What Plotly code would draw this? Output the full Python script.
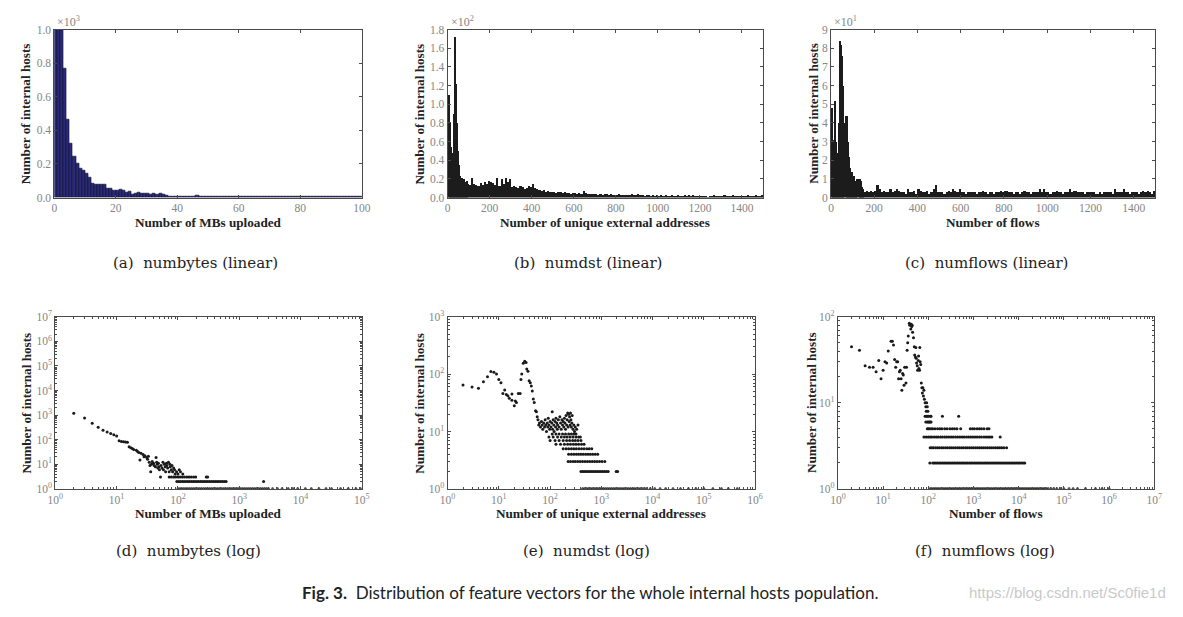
import plotly.graph_objects as go

W, H = 1183, 617

# ---------------- data ----------------
# (a) numbytes, histogram with 1-MB bins
a_bin_start = list(range(0, 100))
a_counts = [1300, 1250, 1200, 766, 462, 320, 245, 200, 172, 160,
            145, 120, 85, 75, 80, 75, 77, 52, 52, 45,
            40, 50, 40, 32, 36, 20, 25, 32, 27, 25,
            22, 20, 23, 18, 22, 19, 12, 8, 5, 7,
            8, 7, 8, 7, 8, 7, 13, 9, 8, 9,
            7, 6, 5, 4, 4, 6, 5, 7, 5, 6,
            5, 6, 5, 7, 6, 5, 7, 4, 7, 5,
            5, 6, 7, 6, 5, 6, 4, 5, 6, 5,
            5, 6, 5, 4, 5, 4, 5, 4, 6, 4,
            5, 5, 4, 5, 4, 5, 4, 5, 4, 5]

# (b) numdst histogram: 5-wide bins up to 100, 10-wide bins after
b_fine_start = list(range(0, 100, 5))
b_fine_counts = [110, 80, 55, 48, 45, 90, 172, 122, 80, 50,
                 35, 24, 21, 22, 19, 20, 17, 16, 18, 15]
b_coarse_start = list(range(100, 1500, 10))
b_coarse_counts = [14, 21, 15, 14, 13, 16, 14, 17, 15, 18,
                   17, 16, 14, 21, 13, 20, 15, 21, 17, 20,
                   12, 13, 12, 11, 13, 12, 10, 11, 13, 12,
                   15, 11, 10, 9, 8, 9, 7, 8, 7, 6,
                   6, 5, 7, 6, 5, 6, 5, 5, 4, 5,
                   5, 4, 5, 4, 8, 5, 4, 4, 4, 4,
                   4, 3, 4, 3, 4, 4, 3, 4, 3, 3,
                   3, 4, 3, 3, 3, 3, 3, 4, 3, 3,
                   4, 3, 3, 2, 3, 3, 2, 3, 2, 3,
                   2, 3, 2, 3, 2, 2, 3, 2, 2, 3,
                   2, 2, 3, 2, 3, 2, 3, 2, 2, 2,
                   2, 2, 2, 1, 2, 2, 3, 2, 2, 2,
                   2, 3, 2, 2, 2, 3, 2, 2, 2, 2,
                   2, 2, 3, 2, 2, 2, 3, 2, 2, 3]

# (c) numflows histogram: 5-wide bins up to 150, 10-wide bins after
c_fine_start = list(range(0, 150, 5))
c_fine_counts = [48, 31, 31, 52, 30, 24, 22, 40, 84, 82,
                 76, 60, 40, 44, 44, 30, 22, 16, 14, 14,
                 12, 12, 9, 8, 10, 10, 10, 9, 6, 5]
c_coarse_start = list(range(150, 1500, 10))
c_coarse_counts = [3, 4, 3, 4, 3, 4, 7, 5, 3, 4,
                   3, 3, 5, 3, 4, 5, 4, 3, 3, 2,
                   5, 3, 3, 4, 2, 5, 4, 3, 3, 4,
                   2, 3, 5, 7, 3, 3, 3, 2, 3, 4,
                   3, 5, 4, 3, 5, 3, 3, 2, 3, 3,
                   3, 3, 2, 3, 3, 4, 3, 2, 3, 3,
                   2, 3, 3, 4, 3, 4, 4, 3, 3, 2,
                   3, 3, 2, 3, 4, 3, 3, 2, 3, 3,
                   3, 5, 3, 5, 3, 3, 2, 3, 3, 4,
                   3, 3, 2, 3, 3, 5, 3, 4, 4, 3,
                   3, 3, 2, 3, 3, 3, 3, 2, 2, 3,
                   2, 3, 3, 3, 3, 2, 5, 3, 3, 3,
                   5, 3, 3, 2, 3, 3, 3, 2, 3, 4,
                   3, 4, 3, 2, 4]

# (d) numbytes log-log: (value, number of hosts)
d_points = [(2, 1200), (3, 760), (4, 470), (5, 320), (6, 245), (7, 205), (8, 180), (9, 160),
            (10, 142), (11, 90), (12, 85), (13, 82), (14, 80), (15, 78), (16, 52), (17, 47),
            (18, 44), (19, 40), (21, 37), (22, 33), (23, 30), (24, 15), (25, 28), (27, 25),
            (28, 20), (29, 22), (31, 19), (32, 16), (33, 21), (34, 12), (35, 9), (36, 5),
            (37, 10), (38, 13), (40, 11), (41, 9), (43, 8), (44, 19), (45, 12), (46, 10),
            (47, 7), (48, 11), (49, 8), (50, 6), (52, 3), (53, 9), (55, 7), (57, 12),
            (58, 6), (60, 10), (62, 8), (63, 5), (65, 11), (66, 9), (68, 7), (70, 12),
            (72, 5), (74, 10), (75, 8), (78, 6), (80, 9), (82, 5), (85, 7), (88, 6),
            (90, 4), (95, 5), (100, 4), (105, 6), (110, 5), (120, 4)]
d_row3_x = [72, 78, 85, 92, 100, 108, 118, 128, 140, 152, 165, 180, 195, 290, 305]
d_row2_x = [96, 103, 110, 118, 126, 135, 145, 155, 166, 178, 190, 204, 218, 234, 250, 268,
            287, 307, 330, 353, 378, 405, 434, 465, 498, 533, 571, 611, 2500]
d_row1_x = [100, 108, 116, 125, 135, 145, 156, 168, 181, 195, 210, 226, 243, 262, 282, 303,
            326, 351, 378, 407, 438, 472, 508, 547, 589, 634, 683, 735, 791, 852, 917, 987,
            1063, 1145, 1233, 1327, 1430, 1540, 1658, 1785, 1922, 2070, 2230, 2400, 2590,
            2790, 3000, 3500, 4200, 5000, 6300, 7500, 9000, 12000, 15000, 20000, 26000,
            32000, 45000, 60000, 80000, 95000]

# (e) numdst log-log
e_points = [(2, 65), (3, 60), (4, 57), (5, 74), (6, 90), (7, 111), (8, 108), (9, 101),
            (10, 81), (11, 71), (12, 46), (13, 53), (14, 44), (15, 42), (16, 38), (18, 45),
            (18, 35), (20, 28), (21, 34), (22, 32), (24, 46), (26, 46), (27, 81), (28, 101),
            (30, 155), (32, 168), (34, 160), (35, 123), (37, 112), (39, 77), (41, 71),
            (43, 62), (45, 51), (47, 37), (49, 32), (52, 23), (54, 22), (56, 18), (58, 16),
            (60, 13), (62, 14), (65, 12), (68, 15), (70, 13), (72, 11), (75, 14), (78, 12),
            (80, 16), (82, 13), (85, 10), (88, 14), (90, 12), (92, 17), (95, 13), (98, 11),
            (100, 15), (104, 12), (108, 14), (110, 22), (112, 11), (115, 16), (118, 13),
            (120, 10), (125, 15), (128, 12), (130, 17), (135, 14), (138, 11), (140, 13),
            (145, 16), (150, 12), (155, 18), (160, 14), (165, 11), (170, 16), (175, 13),
            (180, 15), (185, 12), (190, 17), (195, 14), (200, 11), (205, 19), (210, 13),
            (215, 16), (220, 21), (225, 12), (230, 20), (235, 15), (240, 18), (245, 13),
            (250, 21), (255, 16), (260, 12), (265, 14), (270, 19), (280, 11), (290, 13),
            (300, 10), (310, 12), (320, 9), (330, 11), (350, 13), (390, 8)]
e_row9_x = [110, 130, 150, 175, 200, 230, 260, 290]
e_row8_x = [95, 115, 140, 165, 190, 215, 245, 280, 320, 360]
e_row7_x = [100, 125, 150, 180, 210, 240, 275, 310, 350, 400]
e_row6_x = [130, 160, 190, 220, 250, 285, 320, 360, 410, 460]
e_row5_x = [180, 205, 230, 260, 290, 325, 365, 410, 460, 520, 580, 650]
e_row4_x = [230, 260, 290, 325, 360, 400, 445, 495, 550, 610, 680, 760, 850]
e_row3_x = [225, 250, 280, 310, 345, 385, 430, 480, 535, 595, 665, 740, 825, 920, 1030, 1170]
e_row2_x = [400, 435, 470, 510, 555, 600, 650, 705, 765, 830, 900, 975, 1060, 1150, 1250,
            1360, 1950, 2080]
e_row1_x = [430, 470, 515, 560, 610, 665, 725, 790, 860, 940, 1020, 1110, 1210, 1320, 1440,
            1570, 1710, 1860, 2030, 2210, 2410, 2630, 2860, 3120, 3400, 3700, 4050, 4400,
            4800, 5300, 5800, 6500, 7500, 9000, 11000, 14000, 18000, 25000, 35000, 50000,
            70000, 100000, 150000, 220000, 300000, 450000]

# (f) numflows log-log
f_points = [(2, 45), (3, 41), (4, 27), (5, 26), (6, 26), (7, 23), (8, 31), (9, 19), (10, 24),
            (11, 30), (12, 29), (13, 40), (15, 52), (16, 52), (17, 47), (18, 32), (19, 26),
            (20, 30), (21, 30), (22, 19), (23, 23), (24, 24), (25, 19), (26, 14), (27, 22),
            (28, 21), (29, 16), (30, 26), (32, 17), (33, 26), (34, 41), (35, 50), (36, 60),
            (38, 84), (39, 80), (40, 82), (41, 72), (42, 82), (43, 77), (44, 80), (45, 66),
            (47, 57), (49, 45), (50, 36), (52, 34), (53, 44), (54, 33), (55, 29), (57, 27),
            (58, 24), (60, 31), (61, 35), (62, 25), (64, 24), (65, 44), (66, 30), (68, 28),
            (70, 17), (72, 15), (74, 13), (76, 15), (78, 12), (80, 14), (82, 11), (85, 10),
            (88, 9), (90, 8), (92, 10), (95, 9), (98, 8)]
f_row7_x = [85, 90, 95, 100, 110, 115, 205, 470]
f_row6_x = [88, 95, 100, 105, 110, 115]
f_row5_x = [95, 100, 105, 115, 125, 140, 160, 180, 200, 230, 260, 300, 340, 380, 430, 520,
            850, 950, 1050, 1200, 1350, 1500, 1700, 2000, 2200]
f_row4_x = [80, 90, 100, 110, 120, 135, 150, 165, 185, 205, 230, 255, 285, 320, 355, 400,
            445, 500, 560, 620, 700, 780, 870, 970, 1080, 1200, 1350, 1500, 1700, 1900,
            2100, 2300, 2550, 3900]
f_row3_x = [110, 120, 130, 145, 160, 175, 195, 215, 240, 265, 295, 325, 360, 400, 445, 490,
            545, 600, 670, 740, 820, 910, 1000, 1110, 1230, 1360, 1500, 1660, 1840, 2040,
            2260, 2500, 2780, 3100, 3450, 3800, 4200, 4700, 5400]
f_row2_x = [108, 125, 135, 147, 160, 175, 190, 207, 225, 245, 267, 290, 315, 345, 375, 410,
            445, 485, 530, 575, 625, 680, 740, 810, 880, 960, 1045, 1140, 1240, 1350, 1470,
            1600, 1750, 1900, 2070, 2250, 2460, 2680, 2920, 3180, 3460, 3770, 4100, 4470,
            4870, 5300, 5780, 6300, 6860, 7470, 8140, 8870, 9660, 10500, 11500, 12500, 13600]
f_row1_x = [110, 120, 131, 143, 156, 170, 186, 203, 221, 241, 263, 287, 313, 342, 373, 407,
            444, 484, 528, 576, 629, 686, 748, 816, 890, 971, 1060, 1160, 1260, 1380, 1500,
            1640, 1790, 1950, 2130, 2320, 2530, 2760, 3010, 3290, 3590, 3910, 4270, 4660,
            5080, 5540, 6050, 6600, 7200, 7850, 8560, 9340, 10200, 11100, 12100, 13200,
            14400, 15700, 17200, 18700, 20400, 22300, 24300, 26500, 28900, 31500, 34400,
            37500, 41000, 45000, 52000, 60000, 70000, 85000, 100000, 130000, 160000,
            200000, 300000, 500000, 700000, 1000000]

# tick labels
a_xticks = [0, 20, 40, 60, 80, 100]
a_yticks = [0, 200, 400, 600, 800, 1000]
a_ylabels = ["0.0", "0.2", "0.4", "0.6", "0.8", "1.0"]
bc_xticks = [0, 200, 400, 600, 800, 1000, 1200, 1400]
b_yticks = [0, 20, 40, 60, 80, 100, 120, 140, 160, 180]
b_ylabels = ["0.0", "0.2", "0.4", "0.6", "0.8", "1.0", "1.2", "1.4", "1.6", "1.8"]
c_yticks = [0, 10, 20, 30, 40, 50, 60, 70, 80, 90]
c_ylabels = ["0", "1", "2", "3", "4", "5", "6", "7", "8", "9"]

# ---------------- layout helpers ----------------
SERIF = "Liberation Serif"
WIDE_SERIF = "DejaVu Serif"
TICK_COL = "#858585"
LINE_COL = "#4a4a4a"

# plotting boxes in pixels: x0, x1, y_top, y_bottom
BOX = {
    "a": (47, 359, 22, 194),
    "b": (446, 766, 22, 194),
    "c": (835, 1164, 22, 194),
    "d": (48, 359, 316, 492),
    "e": (446, 758, 316, 492),
    "f": (842, 1163, 316, 492),
}


def xdom(k):
    x0, x1, _, _ = BOX[k]
    return [x0 / W, x1 / W]


def ydom(k):
    _, _, t, b = BOX[k]
    return [1 - b / H, 1 - t / H]


def base_axis(domain, anchor):
    return dict(domain=domain, anchor=anchor, ticks="inside", ticklen=3,
                tickcolor=LINE_COL, tickwidth=0.8, showline=True, linecolor=LINE_COL,
                linewidth=1, mirror="allticks", showgrid=False, zeroline=False,
                tickfont=dict(family=SERIF, size=11.5, color=TICK_COL), fixedrange=True)


def lin_axis(domain, anchor, rng, vals, texts=None):
    ax = base_axis(domain, anchor)
    ax.update(range=rng, tickvals=vals, ticktext=texts if texts else [str(v) for v in vals])
    return ax


def log_axis(domain, anchor, decades):
    ax = base_axis(domain, anchor)
    vals = [10 ** k for k in range(decades + 1)]
    ax.update(type="log", range=[0, decades], tickvals=vals,
              ticktext=["10<sup>%d</sup>" % k for k in range(decades + 1)],
              minor=dict(ticks="inside", ticklen=2, tickcolor=LINE_COL, dtick="D1",
                         showgrid=False))
    return ax


fig = go.Figure()

# ---------- bars ----------
fig.add_trace(go.Bar(x=a_bin_start, y=a_counts, width=1, offset=0,
                     marker=dict(color="#2a2a78", line=dict(color="#101030", width=0.6)),
                     xaxis="x", yaxis="y", showlegend=False))
for xs, ys, w in [(b_fine_start, b_fine_counts, 5), (b_coarse_start, b_coarse_counts, 10)]:
    fig.add_trace(go.Bar(x=xs, y=ys, width=w, offset=0,
                         marker=dict(color="#1c1c1c", line=dict(width=0)),
                         xaxis="x2", yaxis="y2", showlegend=False))
for xs, ys, w in [(c_fine_start, c_fine_counts, 5), (c_coarse_start, c_coarse_counts, 10)]:
    fig.add_trace(go.Bar(x=xs, y=ys, width=w, offset=0,
                         marker=dict(color="#1c1c1c", line=dict(width=0)),
                         xaxis="x3", yaxis="y3", showlegend=False))

# ---------- scatter ----------
MK = dict(color="#1a1a1a", size=3)


def add_points(pts, ax, ay):
    fig.add_trace(go.Scatter(x=[p[0] for p in pts], y=[p[1] for p in pts], mode="markers",
                             marker=MK, xaxis=ax, yaxis=ay, showlegend=False))


def add_row(xs, count, ax, ay):
    fig.add_trace(go.Scatter(x=xs, y=[count] * len(xs), mode="markers", marker=MK,
                             xaxis=ax, yaxis=ay, showlegend=False))


add_points(d_points, "x4", "y4")
for xs, cnt in [(d_row3_x, 3), (d_row2_x, 2), (d_row1_x, 1)]:
    add_row(xs, cnt, "x4", "y4")

add_points(e_points, "x5", "y5")
for xs, cnt in [(e_row9_x, 9), (e_row8_x, 8), (e_row7_x, 7), (e_row6_x, 6), (e_row5_x, 5),
                (e_row4_x, 4), (e_row3_x, 3), (e_row2_x, 2), (e_row1_x, 1)]:
    add_row(xs, cnt, "x5", "y5")

add_points(f_points, "x6", "y6")
for xs, cnt in [(f_row7_x, 7), (f_row6_x, 6), (f_row5_x, 5), (f_row4_x, 4), (f_row3_x, 3),
                (f_row2_x, 2), (f_row1_x, 1)]:
    add_row(xs, cnt, "x6", "y6")

layout = dict(
    width=W, height=H, margin=dict(l=0, r=0, t=0, b=0),
    paper_bgcolor="white", plot_bgcolor="white", barmode="overlay", bargap=0,
    showlegend=False,
    xaxis=lin_axis(xdom("a"), "y", [0, 100], a_xticks),
    yaxis=lin_axis(ydom("a"), "x", [0, 1000], a_yticks, a_ylabels),
    xaxis2=lin_axis(xdom("b"), "y2", [0, 1500], bc_xticks),
    yaxis2=lin_axis(ydom("b"), "x2", [0, 180], b_yticks, b_ylabels),
    xaxis3=lin_axis(xdom("c"), "y3", [0, 1500], bc_xticks),
    yaxis3=lin_axis(ydom("c"), "x3", [0, 90], c_yticks, c_ylabels),
    xaxis4=log_axis(xdom("d"), "y4", 5),
    yaxis4=log_axis(ydom("d"), "x4", 7),
    xaxis5=log_axis(xdom("e"), "y5", 6),
    yaxis5=log_axis(ydom("e"), "x5", 3),
    xaxis6=log_axis(xdom("f"), "y6", 7),
    yaxis6=log_axis(ydom("f"), "x6", 2),
)
fig.update_layout(**layout)

# ---------- text ----------
ann = []


def px_ann(text, x, y, size, color="#222", family=SERIF, xanchor="center",
           yanchor="middle", angle=0):
    ann.append(dict(text=text, x=x / W, y=1 - y / H, xref="paper", yref="paper",
                    showarrow=False, xanchor=xanchor, yanchor=yanchor, textangle=angle,
                    font=dict(family=family, size=size, color=color)))


xtitles = {"a": "Number of MBs uploaded", "b": "Number of unique external addresses",
           "c": "Number of flows", "d": "Number of MBs uploaded",
           "e": "Number of unique external addresses", "f": "Number of flows"}
ylab_x = {"a": 18, "b": 418, "c": 817, "d": 19, "e": 418, "f": 816}
for k, (x0, x1, t, b) in BOX.items():
    px_ann("<b>%s</b>" % xtitles[k], (x0 + x1) / 2, b + 25, 13.2)
    px_ann("<b>Number of internal hosts</b>", ylab_x[k], (t + b) / 2, 13.2, angle=-90)

for k, exp in [("a", 3), ("b", 2), ("c", 1)]:
    x0, x1, t, b = BOX[k]
    px_ann("×10<sup>%d</sup>" % exp, x0 + 1, t + 2, 12, color=TICK_COL, xanchor="left",
           yanchor="bottom")

subs = [("(a)  numbytes (linear)", 190, 261), ("(b)  numdst (linear)", 588, 261),
        ("(c)  numflows (linear)", 993, 261), ("(d)  numbytes (log)", 183, 556),
        ("(e)  numdst (log)", 587, 556), ("(f)  numflows (log)", 991, 556)]
for text, x, y in subs:
    px_ann(text, x, y, 15, family=WIDE_SERIF)

px_ann("<b>Fig. 3.</b>  Distribution of feature vectors for the whole internal hosts population.",
       590, 598, 17, color="#222", family="Lato")
px_ann("https://blog.csdn.net/Sc0fie1d", 1177, 598, 15, color="#c9c9c9",
       family="Liberation Sans", xanchor="right")

fig.update_layout(annotations=ann)
fig.write_html("out.html")
